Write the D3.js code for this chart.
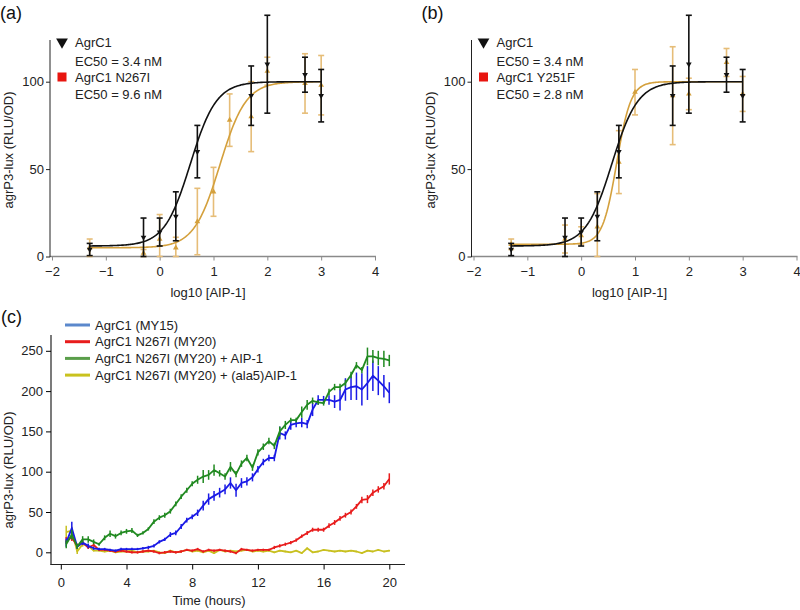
<!DOCTYPE html>
<html>
<head>
<meta charset="utf-8">
<script src="https://cdn.jsdelivr.net/npm/d3@7"></script>
<style>
  body { margin: 0; background: #fff; }
  svg { font-family: "Liberation Sans", Arial, sans-serif; }
  .tick text { font-size: 13px; fill: #222; }
</style>
</head>
<body>
<svg id="fig" width="800" height="610"></svg>
<script>
// ---- dose response data (log10 [AIP-1]) ----
var agrc1Dose = [-1.3, -0.3, 0, 0.3, 0.7, 1.7, 2, 2.7, 3];
var agrc1Mean = [4, 11, 14, 23, 60, 92, 110, 104, 92];
var agrc1Err  = [3.5, 11, 8, 14, 15, 17, 28, 10, 15];

var n267iDose = [-1.3, -0.3, 0, 0.3, 0.7, 1, 1.3, 1.7, 2, 2.7, 3];
var n267iMean = [5, 2, 10, 5, 20, 37, 78, 80, 106, 99, 98];
var n267iErr  = [5, 2, 14, 6, 19, 14, 15, 20, 8, 17, 17];

var y251fDose = [-1.3, -0.3, 0, 0.3, 0.7, 1, 1.7, 2, 2.7, 3];
var y251fMean = [7, 10, 12, 17, 54, 94, 92, 93, 111, 93];
var y251fErr  = [3, 8, 5, 19, 18, 13, 28, 9, 8, 10];

// fit parameters: bottom, top, logEC50, hill slope
var agrc1Fit = [6, 100, 0.57, 1.8];
var n267iFit = [5, 100, 1.12, 1.8];
var y251fFit = [7, 100, 0.66, 3.3];

var doseTicks = [-2, -1, 0, 1, 2, 3, 4];
var respTicks = [0, 50, 100];

// ---- time course data ----
var hours = [0.33, 0.67, 1, 1.33, 1.67, 2, 2.33, 2.67, 3, 3.33, 3.67, 4, 4.33, 4.67, 5,
  5.33, 5.67, 6, 6.33, 6.67, 7, 7.33, 7.67, 8, 8.33, 8.67, 9, 9.33, 9.67, 10,
  10.33, 10.67, 11, 11.33, 11.67, 12, 12.33, 12.67, 13, 13.33, 13.67, 14, 14.33, 14.67, 15,
  15.33, 15.67, 16, 16.33, 16.67, 17, 17.33, 17.67, 18, 18.33, 18.67, 19, 19.33, 19.67, 20];

var my15 = [12, 30, 7, 12, 8, 5, 4, 4, 3, 2, 4, 4, 4, 4, 5,
  6, 8, 13, 16, 22, 24, 32, 40, 44, 49, 58, 66, 70, 74, 78,
  86, 77, 86, 88, 93, 103, 112, 117, 117, 148, 145, 158, 160, 161, 159,
  177, 189, 189, 189, 187, 189, 202, 205, 206, 202, 210, 219, 213, 206, 198];
var my15Err = [5, 8, 3, 3, 3, 2, 1.5, 1.5, 1.5, 1.5, 1.5, 1.5, 1.5, 1.5, 1.5,
  2, 2, 2, 2, 3, 3, 3, 3, 3, 4, 6, 7, 6, 6, 6,
  7, 8, 6, 5, 5, 4, 4, 4, 4, 8, 5, 6, 5, 6, 5,
  8, 6, 5, 6, 8, 13, 14, 16, 17, 20, 21, 19, 18, 14, 13];

var my20 = [15, 18, 8, 12, 6, 9, 3, 3, 2, 1, 2, 1, 0, 0, 1,
  2, 1, -1, 0, 1, 0, 1, 3, 2, 4, 1, 3, 2, 3, 2,
  1, -1, 4, 3, 2, 3, 3, 3, 6, 8, 10, 12, 15, 20, 24,
  28, 28, 28, 33, 37, 42, 46, 50, 57, 65, 66, 74, 78, 82, 91];
var my20Err = [4, 4, 3, 3, 2, 2, 1.5, 1.5, 1.5, 1.5, 1.5, 1.5, 1.5, 1.5, 1.5,
  1.5, 1.5, 1.5, 1.5, 1.5, 1.5, 1.5, 1.5, 1.5, 1.5, 1.5, 1.5, 1.5, 1.5, 1.5,
  1.5, 1.5, 1.5, 1.5, 1.5, 1.5, 1.5, 1.5, 2, 2, 2, 2, 2, 2, 2.5,
  2.5, 2.5, 2.5, 3, 3, 3, 3, 3, 3, 4, 5, 4, 4, 4, 7];

var my20Aip = [10, 22, 7, 16, 16, 13, 10, 18, 23, 20, 24, 26, 27, 21, 24,
  29, 38, 43, 46, 51, 60, 69, 77, 85, 90, 94, 96, 102, 98, 94,
  106, 97, 110, 117, 105, 124, 131, 138, 132, 150, 158, 164, 164, 174, 183,
  188, 186, 185, 199, 205, 205, 210, 220, 232, 226, 243, 243, 241, 240, 238];
var my20AipErr = [5, 6, 3, 4, 4, 3, 2, 3, 4, 3, 3, 3, 3, 2, 2,
  2, 3, 3, 3, 3, 3, 3, 3, 3, 5, 8, 6, 7, 4, 4,
  6, 4, 4, 4, 4, 4, 4, 4, 4, 6, 5, 3, 3, 7, 6,
  4, 3, 3, 4, 4, 4, 4, 4, 4, 4, 11, 8, 9, 10, 7];

var my20Ala5 = [25, 27, 1, 10, 8, 2, 2, 1, 2, 0, 1, 1, 2, 0, 1,
  1, 2, 0, -1, 2, 0, 1, 3, 1, 2, 0, 2, -1, 3, 1,
  2, 1, 2, 3, 1, 2, 1, 2, 0, 2, 1, 0, 2, -1, 5,
  0, 1, 3, 2, 1, 2, 1, 2, 1, -1, 2, 1, 3, 1, 2];
var my20Ala5Err = [8, 5, 3, 3, 2, 1, 1, 1, 1, 1, 1, 1, 1, 1, 1,
  1, 1, 1, 1, 1, 1, 1, 1, 1, 1, 1, 1, 1, 1, 1,
  1, 1, 1, 1, 1, 1, 1, 1, 1, 1, 1, 1, 1, 1, 1,
  1, 1, 1, 1, 1, 1, 1, 1, 1, 1, 1, 1, 1, 1, 1];

var timeLabels = ["AgrC1 (MY15)", "AgrC1 N267I (MY20)", "AgrC1 N267I (MY20) + AIP-1", "AgrC1 N267I (MY20) + (ala5)AIP-1"];
var timeTicks = [0, 4, 8, 12, 16, 20];
var lumTicks = [0, 50, 100, 150, 200, 250];

var svg = d3.select('#fig');
var BLACK = '#111', GOLD = '#d4a03c', GOLD_ERR = '#e6bd78';

function hill(p, x) {
    return p[0] + (p[1] - p[0]) / (1 + Math.pow(10, (p[2] - x) * p[3]));
}

function drawDosePanel(x0, tag, mutDose, mutMean, mutErr, mutFit, mutName, mutEc50) {
    var g = svg.append('g');
    var xScale = d3.scaleLinear().domain([-2, 4]).range([x0 + 2, x0 + 325]);
    var yScale = d3.scaleLinear().domain([0, 100]).range([256.5, 81.7]);

    // axes
    g.append('line').attr('x1', x0).attr('x2', x0 + 326).attr('y1', 256.5).attr('y2', 256.5)
        .attr('stroke', '#8a8a8a').attr('stroke-width', 1.6);
    g.append('line').attr('x1', x0).attr('x2', x0).attr('y1', 40).attr('y2', 257)
        .attr('stroke', '#222').attr('stroke-width', 1);
    var xa = g.append('g').attr('transform', 'translate(0,256.5)')
        .call(d3.axisBottom(xScale).tickValues(doseTicks).tickSize(4).tickPadding(6).tickFormat(d3.format('d')));
    xa.select('.domain').remove();
    xa.selectAll('.tick line').attr('stroke', '#8a8a8a');
    var ya = g.append('g').attr('transform', 'translate(' + x0 + ',0)')
        .call(d3.axisLeft(yScale).tickValues(respTicks).tickSize(4).tickPadding(2));
    ya.select('.domain').remove();
    ya.selectAll('.tick line').attr('stroke', '#222');

    g.append('text').attr('transform', 'translate(' + (x0 - 37) + ',150) rotate(-90)')
        .attr('text-anchor', 'middle').attr('font-size', 13).attr('fill', '#222').text('agrP3-lux (RLU/OD)');
    g.append('text').attr('x', x0 + 158).attr('y', 297).attr('text-anchor', 'middle')
        .attr('font-size', 13).attr('fill', '#222').text('log10 [AIP-1]');
    g.append('text').attr('x', x0 - 50).attr('y', 19).attr('font-size', 18).attr('fill', '#111').text(tag);

    // fit curves
    var xs = d3.range(-1.3, 3.0001, 0.02);
    var line = d3.line().x(function(d) { return xScale(d); });

    function drawSeries(dose, mean, err, fit, color, errColor, down, curveFirst) {
        var pts = dose.map(function(d, i) { return {x: d, y: mean[i], e: err[i]}; });
        var eg = g.append('g').attr('stroke', errColor).attr('stroke-width', 1.6);
        pts.forEach(function(p) {
            var lo = Math.max(0, p.y - p.e), hi = p.y + p.e;
            var cx = xScale(p.x);
            eg.append('line').attr('x1', cx).attr('x2', cx).attr('y1', yScale(lo)).attr('y2', yScale(hi));
            eg.append('line').attr('x1', cx - 3).attr('x2', cx + 3).attr('y1', yScale(lo)).attr('y2', yScale(lo));
            eg.append('line').attr('x1', cx - 3).attr('x2', cx + 3).attr('y1', yScale(hi)).attr('y2', yScale(hi));
        });
        g.append('path').datum(xs)
            .attr('d', line.y(function(d) { return yScale(hill(fit, d)); }))
            .attr('fill', 'none').attr('stroke', color).attr('stroke-width', 1.6);
        var sym = d3.symbol().type(d3.symbolTriangle).size(14);
        g.append('g').selectAll('path').data(pts).enter().append('path')
            .attr('d', sym)
            .attr('transform', function(p) {
                return 'translate(' + xScale(p.x) + ',' + yScale(p.y) + ')' + (down ? ' rotate(180)' : '');
            })
            .attr('fill', color);
    }

    drawSeries(mutDose, mutMean, mutErr, mutFit, GOLD, GOLD_ERR, false);
    drawSeries(agrc1Dose, agrc1Mean, agrc1Err, agrc1Fit, BLACK, BLACK, true);

    // legend
    var lg = g.append('g').attr('font-size', 13).attr('fill', '#222');
    lg.append('path').attr('d', d3.symbol().type(d3.symbolTriangle).size(60))
        .attr('transform', 'translate(' + (x0 + 12) + ',42) rotate(180)').attr('fill', '#111');
    lg.append('rect').attr('x', x0 + 7.5).attr('y', 72.5).attr('width', 9).attr('height', 9).attr('fill', '#e8150f');
    lg.append('text').attr('x', x0 + 25).attr('y', 46.5).text('AgrC1');
    lg.append('text').attr('x', x0 + 25).attr('y', 65.5).text('EC50 = 3.4 nM');
    lg.append('text').attr('x', x0 + 25).attr('y', 81.5).text(mutName);
    lg.append('text').attr('x', x0 + 25).attr('y', 99).text('EC50 = ' + mutEc50);
}

drawDosePanel(50, '(a)', n267iDose, n267iMean, n267iErr, n267iFit, 'AgrC1 N267I', '9.6 nM');
drawDosePanel(471.5, '(b)', y251fDose, y251fMean, y251fErr, y251fFit, 'AgrC1 Y251F', '2.8 nM');

// ---- panel (c) ----
var gc = svg.append('g');
var tScale = d3.scaleLinear().domain([0, 20]).range([60.8, 389.3]);
var lScale = d3.scaleLinear().domain([0, 250]).range([552.3, 350.8]);

gc.append('line').attr('x1', 51).attr('x2', 51).attr('y1', 335).attr('y2', 565)
    .attr('stroke', '#222').attr('stroke-width', 1.2);
gc.append('line').attr('x1', 50.5).attr('x2', 405).attr('y1', 564.5).attr('y2', 564.5)
    .attr('stroke', '#222').attr('stroke-width', 1.2);
var tx = gc.append('g').attr('transform', 'translate(0,564.5)')
    .call(d3.axisBottom(tScale).tickValues(timeTicks).tickSize(5).tickPadding(8));
tx.select('.domain').remove();
tx.selectAll('.tick text').attr('font-size', 14);
var ly = gc.append('g').attr('transform', 'translate(51,0)')
    .call(d3.axisLeft(lScale).tickValues(lumTicks).tickSize(5).tickPadding(3));
ly.select('.domain').remove();
ly.selectAll('.tick text').attr('font-size', 14);

gc.append('text').attr('transform', 'translate(13,470) rotate(-90)')
    .attr('text-anchor', 'middle').attr('font-size', 13).attr('fill', '#222').text('agrP3-lux (RLU/OD)');
gc.append('text').attr('x', 209).attr('y', 605).attr('text-anchor', 'middle')
    .attr('font-size', 13).attr('fill', '#222').text('Time (hours)');
gc.append('text').attr('x', 1).attr('y', 323).attr('font-size', 18).attr('fill', '#111').text('(c)');

var timeSeries = [
    {vals: my15, err: my15Err, color: '#1a1ae6', key: '#5b88cc'},
    {vals: my20, err: my20Err, color: '#e81c1c', key: '#e81c1c'},
    {vals: my20Aip, err: my20AipErr, color: '#218a21', key: '#5a9e4a'},
    {vals: my20Ala5, err: my20Ala5Err, color: '#c8c020', key: '#c9c21e'}
];
var drawOrder = [3, 1, 0, 2];
var tLine = d3.line().x(function(d) { return tScale(d.t); }).y(function(d) { return lScale(d.v); });
drawOrder.forEach(function(k) {
    var s = timeSeries[k];
    var pts = hours.map(function(h, i) { return {t: h, v: s.vals[i], e: s.err[i]}; });
    var sg = gc.append('g');
    sg.append('path').datum(pts).attr('d', tLine).attr('fill', 'none')
        .attr('stroke', s.color).attr('stroke-width', 1.8).attr('stroke-linejoin', 'round');
    sg.selectAll('line').data(pts).enter().append('line')
        .attr('x1', function(d) { return tScale(d.t); })
        .attr('x2', function(d) { return tScale(d.t); })
        .attr('y1', function(d) { return lScale(d.v - d.e); })
        .attr('y2', function(d) { return lScale(d.v + d.e); })
        .attr('stroke', s.color).attr('stroke-width', 1.5);
});

var lgc = gc.append('g').attr('font-size', 13).attr('fill', '#222');
timeLabels.forEach(function(name, i) {
    var y = 325 + i * 16.7;
    lgc.append('line').attr('x1', 65).attr('x2', 90).attr('y1', y).attr('y2', y)
        .attr('stroke', timeSeries[i].key).attr('stroke-width', 3);
    lgc.append('text').attr('x', 95).attr('y', y + 4.5).text(name);
});
</script>
</body>
</html>
